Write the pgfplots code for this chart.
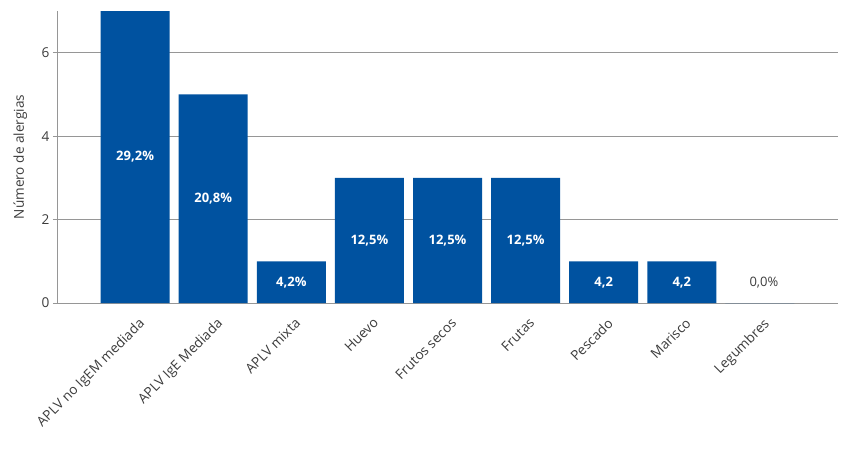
\documentclass[border=0pt]{standalone}
\usepackage{pgfplots}
\pgfplotsset{compat=1.18}
\usepackage{fontspec}
\setmainfont{Open Sans}
\definecolor{barblue}{RGB}{0,82,160}
\definecolor{txtgray}{RGB}{60,60,60}
\definecolor{linegray}{RGB}{150,150,150}
\begin{document}
\begin{tikzpicture}
\begin{axis}[
    scale only axis,
    width=781pt, height=292pt,
    xmin=-1, xmax=9, ymin=0, ymax=7,
    axis lines*=left,
    axis line style={linegray, line width=0.8pt},
    ymajorgrids, grid style={linegray, line width=0.8pt},
    ytick={0,2,4,6},
    xtick={0,...,8},
    xticklabels={APLV no IgEM mediada, APLV IgE Mediada, APLV mixta, Huevo, Frutos secos, Frutas, Pescado, Marisco, Legumbres},
    x tick label style={rotate=45, anchor=north east, inner sep=1pt, yshift=-8pt, xshift=-4pt},
    xtick style={draw=none},
    ytick style={linegray, line width=0.8pt},
    tick align=outside, major tick length=4pt,
    ticklabel style={font=\fontsize{13.6}{16}\selectfont, text=txtgray},
    /pgf/number format/assume math mode=true,
    ylabel={Número de alergias},
    every axis y label/.style={at={(axis description cs:-0.047,0.5)}, rotate=90, anchor=center},
    ylabel style={font=\fontsize{13.6}{16}\selectfont, text=txtgray},
    clip=false,
]
\addplot[ybar, bar width=69pt, bar shift=0pt, fill=barblue, draw=none]
    coordinates {(0,7) (1,5) (2,1) (3,3) (4,3) (5,3) (6,1) (7,1) (8,0)};
% etiquetas dentro de las barras
\addplot[only marks, mark=none, point meta=explicit symbolic, nodes near coords,
    nodes near coords style={anchor=center, font=\fontsize{13}{15}\selectfont\bfseries, text=white}]
    table[meta=lab] {
x y lab
0 3.5 29,2\%
1 2.5 20,8\%
2 0.5 4,2\%
3 1.5 12,5\%
4 1.5 12,5\%
5 1.5 12,5\%
6 0.5 4,2
7 0.5 4,2
};
\addplot[only marks, mark=none, point meta=explicit symbolic, nodes near coords,
    nodes near coords style={anchor=center, xshift=4pt, font=\fontsize{13}{15}\selectfont, text=txtgray}]
    table[meta=lab] {
x y lab
8 0.5 0,0\%
};
\end{axis}
\path ([shift={(-57pt,-149pt)}]current axis.south west) rectangle ++(850pt,452pt);
\end{tikzpicture}
\end{document}
